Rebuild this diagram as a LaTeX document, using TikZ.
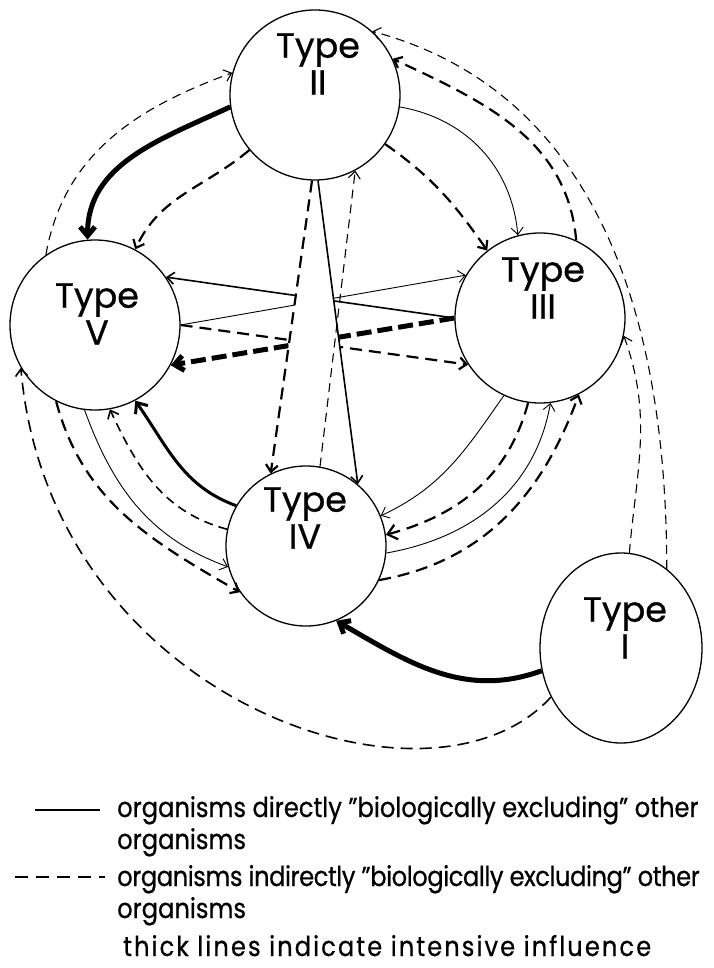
\documentclass[tikz,border=0pt]{standalone}
\usepackage{fontspec}
\setmainfont{Poppins}[FakeStretch=0.88,FakeBold=0.6]
\newfontfamily\typefont{Poppins}[FakeBold=0.6]
\usetikzlibrary{arrows.meta,positioning,calc,shapes.geometric}

\begin{document}
\begin{tikzpicture}[x=1pt, y=1pt,
    grp/.style={draw, circle, line width=1.3pt, minimum size=170pt, inner sep=0pt},
    lbl/.style={align=center, font=\typefont\fontsize{35}{37}\selectfont},
    leg/.style={anchor=base west, align=left, inner sep=0pt, font=\fontsize{27.5}{32}\selectfont},
    tn/.style={line width=0.9pt},
    md/.style={line width=1.6pt},
    hv/.style={line width=5pt},
    dsh/.style={line width=1.1pt, dash pattern=on 9pt off 6pt},
    dshm/.style={line width=2.2pt, dash pattern=on 12pt off 7pt},
    dshh/.style={line width=5pt, dash pattern=on 15pt off 6pt},
    uni/.style={-{Straight Barb[length=7pt,width=12pt]}},
    unih/.style={-{Straight Barb[length=9pt,width=15pt]}}
]
    \useasboundingbox (0,0) rectangle (713,-968);
    \fill[white] (0,0) rectangle (713,-968);

    % Types
    \node[grp] (typeII) at (315,-95) {};
    \node[grp] (typeV) at (95,-325) {};
    \node[grp] (typeIII) at (540,-318) {};
    \node[grp, minimum size=160pt] (typeIV) at (306,-546) {};
    \node[draw, ellipse, line width=1.3pt, minimum width=162pt, minimum height=190pt, inner sep=0pt] (typeI) at (621,-648) {};

    \node[lbl] (nII) at (318,-64) {Type\\II};
    \node[lbl] (nV) at (97,-314) {Type\\V};
    \node[lbl] (nIII) at (543,-288) {Type\\III};
    \node[lbl] (nIV) at (305,-518) {Type\\IV};
    \node[lbl] (nI) at (625,-628) {Type\\I};

    % between V, II and III
    \draw[dsh,uni] (typeV.125) to[out=80,in=200] (typeII.165);
    \draw[hv,unih] (typeII.188) to[out=205,in=90] (typeV.95);
    \draw[dshm,uni] (typeII.220) to[out=220,in=65] (typeV.62);
    \draw[dsh,uni] (typeI.60) to[out=90,in=-15] (typeII.48);
    \draw[dshm,uni] (typeIII.65) to[out=95,in=-25] (typeII.25);
    \draw[tn,uni] (typeII.-8) to[out=-10,in=95] (typeIII.105);
    \draw[dshm,uni] (typeII.-35) to[out=-35,in=125] (typeIII.128);
    \draw[dsh,uni] (typeI.85) to[out=85,in=-70] (typeIII.-12);

    % across the middle
    \draw[md,uni] (typeIII.180) -- (typeV.34);
    \draw[tn,uni] (typeV.0) -- (typeIII.150);
    \draw[dshh,unih] (typeIII.180) -- (typeV.-28);
    \draw[dshm,uni] (typeV.0) -- (typeIII.213);
    \fill[white] ($(typeII.268)!0.3!(typeIV.116)$) -- ($(typeII.268)!0.62!(typeIV.116)$)
        -- ($(typeII.272)!0.62!(typeIV.50)$) -- ($(typeII.272)!0.3!(typeIV.50)$) -- cycle;
    \draw[dshm,uni] (typeII.268) -- (typeIV.116);
    \draw[md,uni] (typeII.272) -- (typeIV.50);
    \draw[dsh,uni] (typeIV.80) -- (typeII.-62);

    % below
    \draw[dshm,line width=1.6pt,uni] (typeI.215) .. controls (430,-830) and (50,-700) .. (typeV.210);
    \draw[dshm,uni] (typeV.243) to[out=-75,in=150] (typeIV.215);
    \draw[tn,uni] (typeV.263) to[out=-70,in=160] (typeIV.195);
    \draw[dsh,line width=1.6pt,uni] (typeIV.168) to[out=165,in=-65] (typeV.280);
    \draw[line width=3pt,unih] (typeIV.150) to[out=160,in=-55] (typeV.298);
    \draw[tn,uni] (typeIII.245) to[out=235,in=25] (typeIV.22);
    \draw[dshm,unih] (typeIII.262) to[out=255,in=15] (typeIV.8);
    \draw[tn,uni] (typeIV.-5) to[out=10,in=-100] (typeIII.-83);
    \draw[dshm,uni] (typeIV.-25) to[out=10,in=-110] (typeIII.-63);
    \draw[hv,unih] (typeI.196) to[out=200,in=-30] (typeIV.-68);

    % Key
    \draw[md] (35,-810) -- (100,-810);
    \node[leg] (key1) at (117,-849) {organisms directly "biologically excluding" other\\organisms};
    \draw[dshm,dash pattern=on 13pt off 8pt] (15,-877) -- (105,-877);
    \node[leg] (key2) at (117,-918) {\addfontfeature{LetterSpace=-1.6}organisms indirectly "biologically excluding" other\\organisms};
    \node[leg, align=none] (key3) at (123,-956) {\addfontfeature{LetterSpace=7.5}thick lines indicate intensive influence};
\end{tikzpicture}
\end{document}
